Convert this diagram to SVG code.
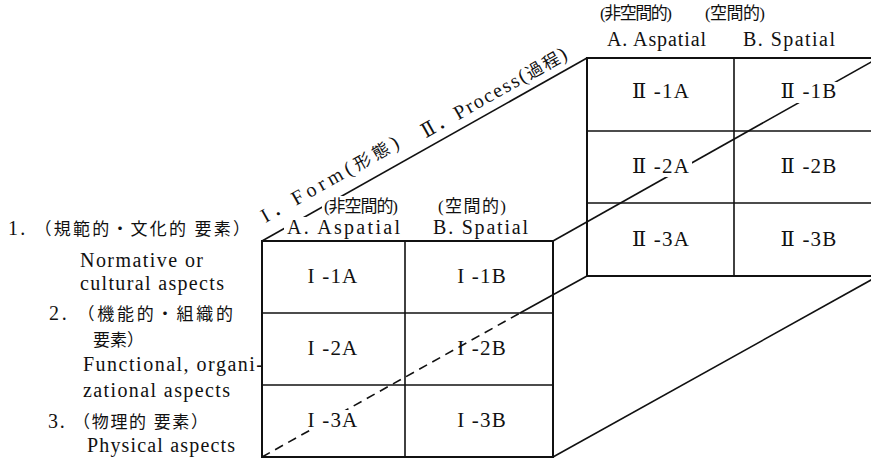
<svg xmlns="http://www.w3.org/2000/svg" width="871" height="460" viewBox="0 0 871 460">
<style>
.t{font-family:"Liberation Serif","DejaVu Serif","Noto Sans CJK JP",serif;fill:#111;font-size:20px}
.cj{font-size:17px}
.c{text-anchor:middle;font-size:21px;letter-spacing:1.2px}
.frame{fill:none;stroke:#111;stroke-width:2}
.dv{stroke:#111;stroke-width:1.6;fill:none}
.ln{stroke:#111;stroke-width:1.6;fill:none}
.dash{stroke-dasharray:9 6}
.bg{fill:#fff}
</style>
<rect width="871" height="460" fill="#fff"/>
<g id="back-block">
<rect class="frame" x="587" y="58" width="300" height="218"/>
<line class="dv" x1="734" y1="58" x2="734" y2="276"/>
<line class="dv" x1="587" y1="131" x2="871" y2="131"/>
<line class="dv" x1="587" y1="203" x2="871" y2="203"/>
</g>
<g id="connectors">
<line class="ln" x1="262" y1="241" x2="587" y2="58"/>
<line class="ln" x1="553" y1="241" x2="880" y2="57"/>
<line class="ln dash" x1="262" y1="457" x2="520" y2="313"/>
<line class="ln" x1="520" y1="313" x2="587" y2="276"/>
<line class="ln" x1="553" y1="457" x2="880" y2="275"/>
</g>
<g id="front-block">
<rect class="frame" x="262" y="241" width="291" height="216"/>
<line class="dv" x1="405" y1="241" x2="405" y2="457"/>
<line class="dv" x1="262" y1="313" x2="553" y2="313"/>
<line class="dv" x1="262" y1="385" x2="553" y2="385"/>
</g>
<g id="axis-labels">
<g transform="translate(262,241) rotate(-29.4)">
<text class="t" x="12" y="-14" textLength="155" lengthAdjust="spacing">I．Form(<tspan class="cj">形態</tspan>)</text>
<text class="t" x="193" y="-9" textLength="164" lengthAdjust="spacing">Ⅱ．Process(<tspan class="cj">過程</tspan>)</text>
</g>
</g>
<g id="front-headers">
<rect class="bg" x="322" y="196" width="80" height="20"/>
<rect class="bg" x="284" y="217" width="120" height="20"/>
<text class="t cj" x="324" y="212" textLength="74" lengthAdjust="spacing">(非空間的)</text>
<text class="t cj" x="438" y="212" textLength="68" lengthAdjust="spacing">(空間的)</text>
<text class="t" x="287" y="234" textLength="113" lengthAdjust="spacing">A.  Aspatial</text>
<text class="t" x="433" y="234" textLength="95" lengthAdjust="spacing">B.  Spatial</text>
</g>
<g id="back-headers">
<text class="t cj" x="600" y="19" textLength="72" lengthAdjust="spacing">(非空間的)</text>
<text class="t cj" x="705" y="19" textLength="60" lengthAdjust="spacing">(空間的)</text>
<text class="t" x="607" y="46" textLength="99" lengthAdjust="spacing">A.  Aspatial</text>
<text class="t" x="743" y="46" textLength="92" lengthAdjust="spacing">B.  Spatial</text>
</g>
<g id="cell-I-1A"><text class="t c" x="333" y="283">I -1A</text></g>
<g id="cell-I-1B"><text class="t c" x="482" y="283">I -1B</text></g>
<g id="cell-I-2A"><text class="t c" x="333" y="355">I -2A</text></g>
<g id="cell-I-2B"><text class="t c" x="482" y="355">I -2B</text></g>
<g id="cell-I-3A"><rect class="bg" x="306" y="410" width="56" height="20"/><text class="t c" x="333" y="427">I -3A</text></g>
<g id="cell-I-3B"><text class="t c" x="482" y="427">I -3B</text></g>
<g id="cell-II-1A"><text class="t c" x="661" y="98">Ⅱ -1A</text></g>
<g id="cell-II-1B"><rect class="bg" x="781" y="82" width="57" height="21"/><text class="t c" x="809" y="98">Ⅱ -1B</text></g>
<g id="cell-II-2A"><rect class="bg" x="632" y="156" width="60" height="21"/><text class="t c" x="661" y="173">Ⅱ -2A</text></g>
<g id="cell-II-2B"><text class="t c" x="809" y="173">Ⅱ -2B</text></g>
<g id="cell-II-3A"><text class="t c" x="661" y="246">Ⅱ -3A</text></g>
<g id="cell-II-3B"><text class="t c" x="809" y="246">Ⅱ -3B</text></g>
<g id="row-labels">
<text class="t" x="8" y="235" textLength="242" lengthAdjust="spacing">1. <tspan class="cj">（規範的・文化的 要素）</tspan></text>
<text class="t" x="80" y="267" textLength="123" lengthAdjust="spacing">Normative  or</text>
<text class="t" x="80" y="290" textLength="144" lengthAdjust="spacing">cultural  aspects</text>
<text class="t" x="49" y="320" textLength="184" lengthAdjust="spacing">2. <tspan class="cj">（機能的・組織的</tspan></text>
<text class="t cj" x="93" y="346">要素）</text>
<text class="t" x="83" y="371" textLength="180" lengthAdjust="spacing">Functional,  organi-</text>
<text class="t" x="83" y="397" textLength="147" lengthAdjust="spacing">zational  aspects</text>
<text class="t" x="48" y="428" textLength="160" lengthAdjust="spacing">3. <tspan class="cj">（物理的 要素）</tspan></text>
<text class="t" x="87" y="452" textLength="148" lengthAdjust="spacing">Physical  aspects</text>
</g>
</svg>
